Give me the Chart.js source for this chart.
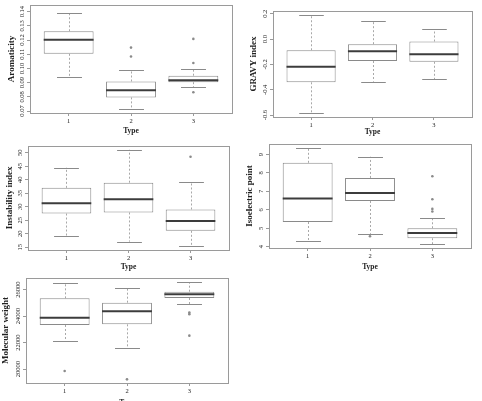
<!DOCTYPE html>
<html>
<head>
<meta charset="utf-8">
<script src="https://cdn.jsdelivr.net/npm/chart.js@4.4.1/dist/chart.umd.min.js"></script>
<style>
body { margin:0; background:#fff; width:482px; height:401px; overflow:hidden; position:relative; }
.panel { position:absolute; }
</style>
</head>
<body>
<div class="panel" style="left:0;top:0;width:240px;height:138px"><canvas id="c1"></canvas></div>
<div class="panel" style="left:240px;top:0;width:242px;height:138px"><canvas id="c2"></canvas></div>
<div class="panel" style="left:0;top:138px;width:240px;height:134px"><canvas id="c3"></canvas></div>
<div class="panel" style="left:240px;top:138px;width:242px;height:134px"><canvas id="c4"></canvas></div>
<div class="panel" style="left:0;top:272px;width:240px;height:138px"><canvas id="c5"></canvas></div>
<script>
const xPos = [1, 2, 3];
const types = ['1', '2', '3'];

// Aromaticity
const aroMin = [0.0939, 0.0711, 0.0867];
const aroQ1 = [0.1103, 0.0796, 0.0903];
const aroMed = [0.1203, 0.0847, 0.0917];
const aroQ3 = [0.1262, 0.0908, 0.0949];
const aroMax = [0.1388, 0.0988, 0.0998];
const aroOut = [[], [0.1084, 0.1147], [0.0832, 0.1038, 0.1208]];
const aroTicks = [0.07, 0.08, 0.09, 0.10, 0.11, 0.12, 0.13, 0.14];

// GRAVY index
const grMin = [-0.581, -0.336, -0.317];
const grQ1 = [-0.341, -0.173, -0.179];
const grMed = [-0.219, -0.096, -0.120];
const grQ3 = [-0.088, -0.040, -0.019];
const grMax = [0.192, 0.141, 0.077];
const grOut = [[], [], []];
const grTicks = [-0.6, -0.4, -0.2, 0.0, 0.2];

// Instability index
const insMin = [19.0, 17.1, 15.4];
const insQ1 = [27.5, 27.9, 21.1];
const insMed = [31.3, 32.8, 24.7];
const insQ3 = [37.0, 38.9, 29.0];
const insMax = [44.5, 51.1, 39.2];
const insOut = [[], [], [48.5]];
const insTicks = [15, 20, 25, 30, 35, 40, 45, 50];

// Isoelectric point
const piMin = [4.30, 4.70, 4.14];
const piQ1 = [5.34, 6.48, 4.46];
const piMed = [6.61, 6.91, 4.75];
const piQ3 = [8.55, 7.73, 5.00];
const piMax = [9.36, 8.88, 5.55];
const piOut = [[], [4.57], [5.91, 6.05, 6.57, 7.82]];
const piTicks = [4, 5, 6, 7, 8, 9];

// Molecular weight
const mwMin = [22146, 21567, 24892];
const mwQ1 = [23330, 23380, 25370];
const mwMed = [23884, 24363, 25647];
const mwQ3 = [25345, 25018, 25849];
const mwMax = [26480, 26151, 26579];
const mwOut = [[19849], [19219], [22524, 24150, 24270]];
const mwTicks = [20000, 22000, 24000, 26000];

const frameColor = '#9a9a9a';
const boxColor = '#8a8a8a';
const textColor = '#222';
const serif = 'Liberation Serif';

function boxPlugin(s)
{
	return {
		id: 'boxParts',
		afterDatasetsDraw(chart) {
			const ctx = chart.ctx;
			const ys = chart.scales.y;
			const bars = chart.getDatasetMeta(0).data;
			ctx.save();
			bars.forEach((bar, i) => {
				const cx = Math.round(bar.x) + 0.5;
				const half = bar.width / 2;
				const yMed = ys.getPixelForValue(s.med[i]);
				const yQ1 = ys.getPixelForValue(s.q1[i]);
				const yQ3 = ys.getPixelForValue(s.q3[i]);
				const yMin = ys.getPixelForValue(s.min[i]);
				const yMax = ys.getPixelForValue(s.max[i]);
				// whiskers
				ctx.strokeStyle = '#a8a8a8';
				ctx.lineWidth = 1;
				ctx.setLineDash([2, 2]);
				ctx.beginPath();
				ctx.moveTo(cx, yQ3); ctx.lineTo(cx, yMax);
				ctx.moveTo(cx, yQ1); ctx.lineTo(cx, yMin);
				ctx.stroke();
				ctx.setLineDash([]);
				// staples
				ctx.strokeStyle = boxColor;
				ctx.beginPath();
				ctx.moveTo(cx - half / 2, Math.round(yMax) + 0.5); ctx.lineTo(cx + half / 2, Math.round(yMax) + 0.5);
				ctx.moveTo(cx - half / 2, Math.round(yMin) + 0.5); ctx.lineTo(cx + half / 2, Math.round(yMin) + 0.5);
				ctx.stroke();
				// median
				ctx.strokeStyle = '#3c3c3c';
				ctx.lineWidth = 2;
				ctx.beginPath();
				ctx.moveTo(bar.x - half, yMed); ctx.lineTo(bar.x + half, yMed);
				ctx.stroke();
			});
			ctx.restore();
		},
		afterDraw(chart) {
			const ctx = chart.ctx;
			const a = chart.chartArea;
			const ys = chart.scales.y;
			ctx.save();
			ctx.strokeStyle = frameColor;
			ctx.lineWidth = 1;
			ctx.strokeRect(Math.round(a.left) + 0.5, Math.round(a.top) + 0.5, Math.round(a.right - a.left), Math.round(a.bottom - a.top));
			// y tick labels, parallel to the axis
			ctx.fillStyle = textColor;
			ctx.font = '6.5px "' + serif + '"';
			ctx.textAlign = 'center';
			ctx.textBaseline = 'middle';
			ys.ticks.forEach(t => {
				ctx.save();
				ctx.translate(a.left - 7.5, ys.getPixelForValue(t.value));
				ctx.rotate(-Math.PI / 2);
				ctx.fillText(s.fmt(t.value), 0, 0);
				ctx.restore();
			});
			ctx.restore();
		}
	};
}

function makePanel(id, s, lay)
{
	const outPts = [];
	s.out.forEach((list, i) => list.forEach(v => outPts.push({ x: xPos[i], y: v })));

	new Chart(document.getElementById(id), {
		type: 'bar',
		data: {
			datasets: [{
				data: xPos.map((x, i) => ({ x: x, y: [s.q1[i], s.q3[i]] })),
				backgroundColor: '#fff',
				borderColor: boxColor,
				borderWidth: 1,
				borderSkipped: false,
				categoryPercentage: 1,
				barPercentage: 0.8
			}, {
				type: 'scatter',
				data: outPts,
				pointRadius: 1.3,
				pointBackgroundColor: '#8a8a8a',
				pointBorderWidth: 0
			}]
		},
		options: {
			responsive: true,
			maintainAspectRatio: false,
			animation: false,
			devicePixelRatio: 1,
			layout: { padding: { top: lay.top, right: lay.right, left: 0, bottom: 0 } },
			plugins: { legend: { display: false }, tooltip: { enabled: false } },
			scales: {
				x: {
					type: 'linear',
					min: 0.38,
					max: 3.62,
					bounds: 'data',
					offset: false,
					afterBuildTicks: sc => { sc.ticks = xPos.map(v => ({ value: v })); },
					afterFit: sc => { sc.height = lay.xH; },
					ticks: {
						autoSkip: false,
						maxRotation: 0,
						padding: 1,
						color: textColor,
						font: { family: serif, size: 6.5 },
						callback: v => types[xPos.indexOf(v)]
					},
					grid: { offset: false, drawOnChartArea: false, tickLength: 3, color: frameColor },
					border: { display: false },
					title: {
						display: true,
						text: 'Type',
						color: textColor,
						font: { family: serif, size: 7.5, weight: 'bold' },
						padding: { top: 0, bottom: lay.typePad }
					}
				},
				y: {
					min: s.yMin,
					max: s.yMax,
					bounds: 'data',
					afterBuildTicks: sc => { sc.ticks = s.ticks.map(v => ({ value: v })); },
					afterFit: sc => { sc.width = lay.yW; },
					ticks: { display: false },
					grid: { drawOnChartArea: false, tickLength: 3, color: frameColor },
					border: { display: false },
					title: {
						display: true,
						text: s.title,
						color: textColor,
						font: { family: serif, size: 9, weight: 'bold' },
						padding: { top: lay.titlePad, bottom: 0 }
					}
				}
			}
		},
		plugins: [boxPlugin(s)]
	});
}

makePanel('c1', { min: aroMin, q1: aroQ1, med: aroMed, q3: aroQ3, max: aroMax, out: aroOut, ticks: aroTicks,
	fmt: v => v.toFixed(2), yMin: 0.0686, yMax: 0.1447, title: 'Aromaticity' },
	{ top: 5, right: 8, yW: 30, xH: 25, titlePad: 6.6, typePad: 2.5 });

makePanel('c2', { min: grMin, q1: grQ1, med: grMed, q3: grQ3, max: grMax, out: grOut, ticks: grTicks,
	fmt: v => v.toFixed(1), yMin: -0.615, yMax: 0.222, title: 'GRAVY index' },
	{ top: 11, right: 10, yW: 33, xH: 21, titlePad: 8.6, typePad: 1.5 });

makePanel('c3', { min: insMin, q1: insQ1, med: insMed, q3: insQ3, max: insMax, out: insOut, ticks: insTicks,
	fmt: v => String(v), yMin: 14.0, yMax: 52.6, title: 'Instability index' },
	{ top: 7.7, right: 11, yW: 28, xH: 22, titlePad: 4.6, typePad: 0.5 });

makePanel('c4', { min: piMin, q1: piQ1, med: piMed, q3: piQ3, max: piMax, out: piOut, ticks: piTicks,
	fmt: v => String(v), yMin: 3.93, yMax: 9.57, title: 'Isoelectric point' },
	{ top: 6, right: 11, yW: 29, xH: 24, titlePad: 4.6, typePad: 0.5 });

makePanel('c5', { min: mwMin, q1: mwQ1, med: mwMed, q3: mwQ3, max: mwMax, out: mwOut, ticks: mwTicks,
	fmt: v => String(v), yMin: 18941, yMax: 26885, title: 'Molecular weight' },
	{ top: 6, right: 12, yW: 26, xH: 27, titlePad: 0.6, typePad: 2.5 });
</script>
</body>
</html>
